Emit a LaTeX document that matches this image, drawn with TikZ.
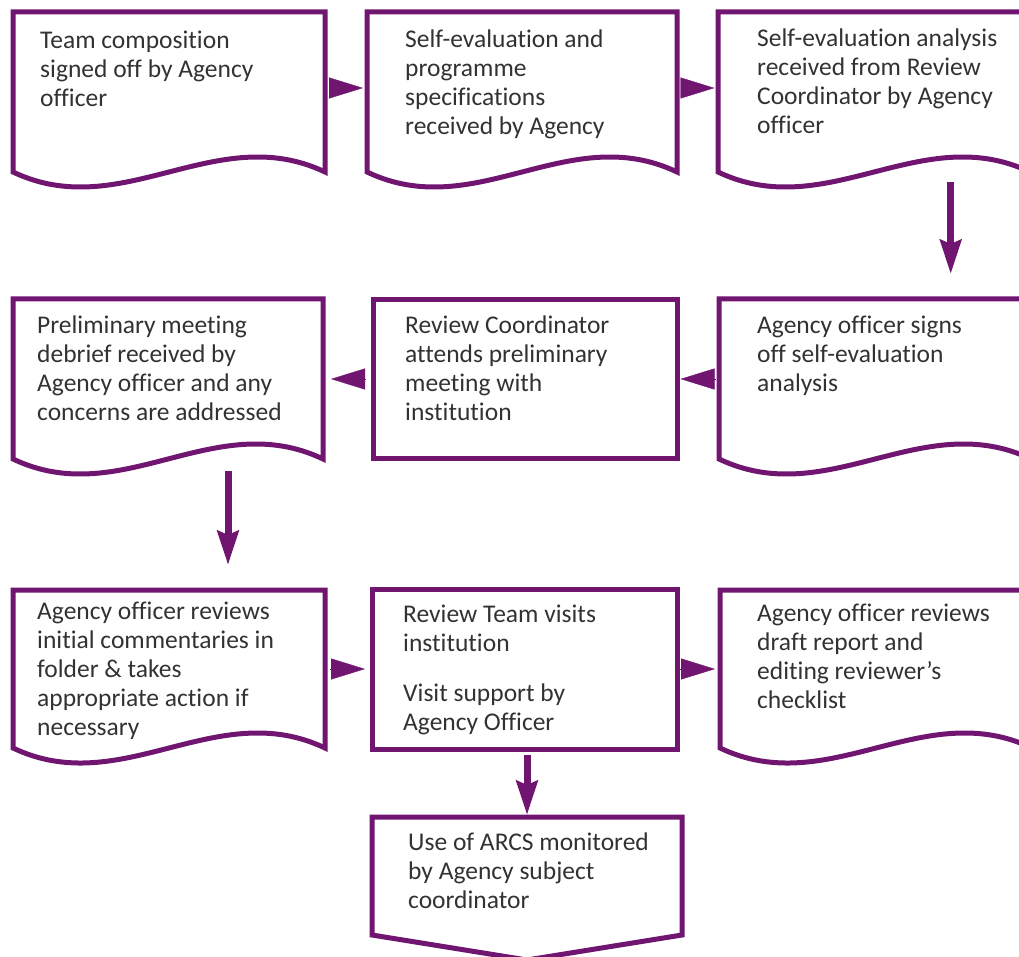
\documentclass[tikz,border=0pt]{standalone}
\usepackage{fontspec}
\setmainfont{Carlito}[Ligatures={NoCommon}]
\usetikzlibrary{arrows.meta,calc}
\definecolor{plum}{RGB}{112,22,112}
\definecolor{ink}{RGB}{50,50,50}
\newcommand\boxfont{\fontsize{25.5}{29}\selectfont}
\newcommand\docoutline[1]{%
  \draw[outline] (#1.south east) -- (#1.north east) -- (#1.north west) -- (#1.south west)
    .. controls +(109,52) and +(-109,-52) .. (#1.south east) -- cycle;}
\begin{document}
\begin{tikzpicture}[x=1pt,y=-1pt,
  area/.style={draw=none,inner sep=0pt,outer sep=0pt},
  rectbox/.style={area,draw=plum,line width=5pt},
  outline/.style={draw=plum,line width=5pt,line join=miter},
  boxtext/.style={anchor=north west,inner sep=0pt,align=left,font=\boxfont,text=ink},
  harrow/.style={draw=plum,line width=0.4pt,-{Triangle[length=34pt,width=21pt]}},
  varrow/.style={draw=plum,line width=7pt,-{Stealth[length=34pt,width=21pt,inset=4pt]}}]
\useasboundingbox (0,0) rectangle (1019,957);
\clip (0,0) rectangle (1019,957);
% row 1
\node[area,minimum width=312pt,minimum height=160pt] (b1) at (169,92) {};
\node[area,minimum width=310pt,minimum height=160pt] (b2) at (522,92) {};
\node[area,minimum width=312pt,minimum height=160pt] (b3) at (874,92) {};
% row 2
\node[area,minimum width=310pt,minimum height=160pt] (b4) at (168,379) {};
\node[rectbox,minimum width=304pt,minimum height=158pt] (b5) at (525,379) {};
\node[area,minimum width=312pt,minimum height=160pt] (b6) at (875,379) {};
% row 3
\node[area,minimum width=312pt,minimum height=158pt] (b7) at (169,669) {};
\node[rectbox,minimum width=305pt,minimum height=160pt] (b8) at (524.5,669) {};
\node[area,minimum width=312pt,minimum height=158pt] (b9) at (876,669) {};
% row 4
\node[area,minimum width=310pt,minimum height=118pt] (b10) at (527,876) {};

\docoutline{b1}
\docoutline{b2}
\docoutline{b3}
\docoutline{b4}
\docoutline{b6}
\docoutline{b7}
\docoutline{b9}
\draw[outline] (b10.north west) -- (b10.north east) -- (b10.south east)
  -- ([yshift=-25pt]b10.south) -- (b10.south west) -- cycle;

% texts
\node[boxtext] (t1) at (40,27.7) {\strut Team composition\\signed off by Agency\\officer};
\node[boxtext] (t2) at (405,26.7) {\strut Self-evaluation and\\programme\\specifications\\received by Agency};
\node[boxtext] (t3) at (757,25.7) {\strut Self-evaluation analysis\\received from Review\\Coordinator by Agency\\officer};
\node[boxtext] (t4) at (37,312.7) {\strut Preliminary meeting\\debrief received by\\Agency officer and any\\concerns are addressed};
\node[boxtext] (t5) at (405,312.7) {\strut Review Coordinator\\attends preliminary\\meeting with\\institution};
\node[boxtext] (t6) at (757,312.7) {\strut Agency officer signs\\off self-evaluation\\analysis};
\node[boxtext] (t7) at (37,598.7) {\strut Agency officer reviews\\initial commentaries in\\folder \& takes\\appropriate action if\\necessary};
\node[boxtext] (t8) at (403,601.7) {\strut Review Team visits\\institution\\[21pt]Visit support by\\Agency Officer};
\node[boxtext] (t9) at (757,600.7) {\strut Agency officer reviews\\draft report and\\editing reviewer's\\checklist};
\node[boxtext] (t10) at (408,829.7) {\strut Use of ARCS monitored\\by Agency subject\\coordinator};

% arrows
\draw[harrow,shorten <=4pt,shorten >=4pt] ([yshift=4pt]b1.east) -- ([yshift=4pt]b2.west);
\draw[harrow,shorten <=3.5pt,shorten >=3.5pt] ([yshift=4pt]b2.east) -- ([yshift=4pt]b3.west);
\draw[varrow] ([xshift=76.7pt,yshift=-10pt]b3.south) -- ([xshift=75.7pt,yshift=25pt]b6.north);
\draw[harrow,shorten <=3.5pt,shorten >=3.5pt] (b6.west) -- (b5.east);
\draw[harrow,shorten <=8pt,shorten >=8pt] (b5.west) -- (b4.east);
\draw[varrow] ([xshift=60pt,yshift=-12pt]b4.south) -- ([xshift=59pt,yshift=25pt]b7.north);
\draw[harrow,shorten <=5pt,shorten >=7pt] (b7.east) -- (b8.west);
\draw[harrow,shorten <=3pt,shorten >=5pt] (b8.east) -- (b9.west);
\draw[varrow] ([xshift=2.5pt,yshift=-6pt]b8.south) -- ([yshift=2pt]b10.north);
\end{tikzpicture}
\end{document}
